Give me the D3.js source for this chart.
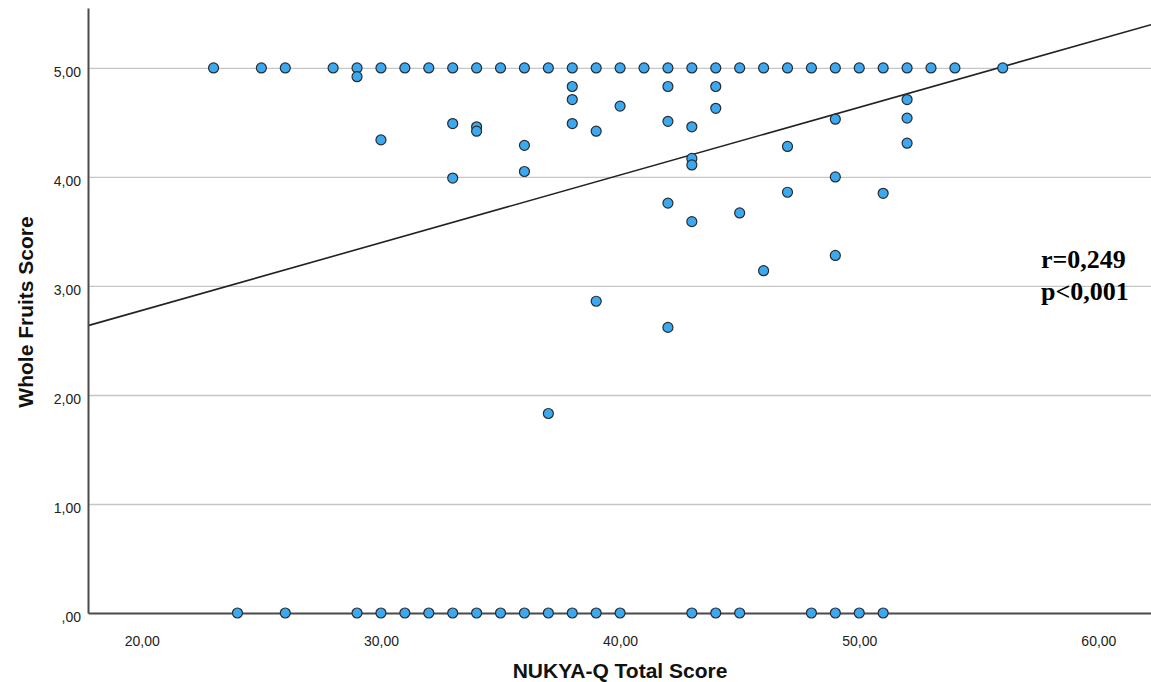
<!DOCTYPE html>
<html>
<head>
<meta charset="utf-8">
<script src="https://cdn.jsdelivr.net/npm/d3@7"></script>
<style>
  html, body { margin: 0; padding: 0; background: #fff; }
  svg { display: block; }
</style>
</head>
<body>
<svg id="chart" width="1151" height="682"></svg>
<script>
// NUKYA-Q total score (x) against Whole Fruits score (y)
const scoreX = [
  23, 25, 26, 28, 29, 30, 31, 32, 33, 34, 35, 36, 37, 38, 39, 40,
  41, 42, 43, 44, 45, 46, 47, 48, 49, 50, 51, 52, 53, 54, 56,
  24, 26, 29, 30, 31, 32, 33, 34, 35, 36, 37, 38, 39, 40, 43, 44,
  45, 48, 49, 50, 51,
  29, 30, 33, 33, 34, 34, 36, 36, 37, 38, 38, 38, 39, 39, 40,
  42, 42, 42, 42, 43, 43, 43, 43, 44, 44, 45, 46, 47, 47,
  49, 49, 49, 51, 52, 52, 52
];
const fruitY = [
  5, 5, 5, 5, 5, 5, 5, 5, 5, 5, 5, 5, 5, 5, 5, 5,
  5, 5, 5, 5, 5, 5, 5, 5, 5, 5, 5, 5, 5, 5, 5,
  0, 0, 0, 0, 0, 0, 0, 0, 0, 0, 0, 0, 0, 0, 0, 0,
  0, 0, 0, 0, 0,
  4.92, 4.34, 4.49, 3.99, 4.46, 4.42, 4.29, 4.05, 1.83, 4.83, 4.71, 4.49, 4.42, 2.86, 4.65,
  4.83, 4.51, 3.76, 2.62, 4.46, 4.17, 4.11, 3.59, 4.83, 4.63, 3.67, 3.14, 4.28, 3.86,
  4.53, 4.00, 3.28, 3.85, 4.71, 4.54, 4.31
];

// linear fit line
const fitIntercept = 1.534;
const fitSlope = 0.0621;

const xTicks = [20, 30, 40, 50, 60];
const xTickLabels = ["20,00", "30,00", "40,00", "50,00", "60,00"];
const yTicks = [0, 1, 2, 3, 4, 5];
const yTickLabels = [",00", "1,00", "2,00", "3,00", "4,00", "5,00"];

const statLines = ["r=0,249", "p<0,001"];

const width = 1151;
const height = 682;
const plot = {left: 88, right: 1151, top: 8, bottom: 613};

const x = d3.scaleLinear().domain([17.75, 62.2]).range([plot.left, plot.right]);
const y = d3.scaleLinear().domain([0, 5.55]).range([plot.bottom, plot.top]);

const svg = d3.select("#chart");

svg.append("rect")
  .attr("width", width)
  .attr("height", height)
  .attr("fill", "#fff");

// horizontal grid
svg.append("g")
  .attr("transform", `translate(${plot.left},0)`)
  .call(d3.axisLeft(y).tickValues(yTicks.slice(1)).tickSize(-(plot.right - plot.left)).tickFormat(""))
  .call(g => g.select(".domain").remove())
  .call(g => g.selectAll(".tick line").attr("stroke", "#c6c6c6").attr("stroke-width", 1.3));

// fit line
const fitLine = d3.line()
  .x(d => x(d))
  .y(d => y(fitIntercept + fitSlope * d));

svg.append("path")
  .datum(x.domain())
  .attr("fill", "none")
  .attr("stroke", "#222")
  .attr("stroke-width", 1.6)
  .attr("d", fitLine);

// axes
const xAxis = svg.append("g")
  .attr("transform", `translate(0,${plot.bottom})`)
  .call(d3.axisBottom(x)
    .tickValues(xTicks)
    .tickSize(0)
    .tickPadding(23)
    .tickFormat((d, i) => xTickLabels[i]));

const yAxis = svg.append("g")
  .attr("transform", `translate(${plot.left},0)`)
  .call(d3.axisLeft(y)
    .tickValues(yTicks)
    .tickSize(0)
    .tickPadding(7)
    .tickFormat((d, i) => yTickLabels[i]));

yAxis.selectAll(".tick text").attr("dy", "0.62em");

[xAxis, yAxis].forEach(g => {
  g.select(".domain").attr("stroke", "#4a4a4a").attr("stroke-width", 2);
  g.selectAll(".tick text")
    .attr("fill", "#222")
    .style("font-family", "'Liberation Sans', Arial, sans-serif")
    .style("font-size", "14px");
});

// points
svg.append("g")
  .selectAll("circle")
  .data(scoreX)
  .enter().append("circle")
  .attr("cx", d => x(d))
  .attr("cy", (d, i) => y(fruitY[i]))
  .attr("r", 5)
  .attr("fill", "#3aa9f2")
  .attr("stroke", "#2b2b2b")
  .attr("stroke-width", 1.2);

// axis titles
svg.append("text")
  .attr("x", 620)
  .attr("y", 678)
  .attr("text-anchor", "middle")
  .style("font-family", "'Liberation Sans', Arial, sans-serif")
  .style("font-size", "21px")
  .style("font-weight", "bold")
  .attr("fill", "#111")
  .text("NUKYA-Q Total Score");

svg.append("text")
  .attr("transform", "translate(33,312) rotate(-90)")
  .attr("text-anchor", "middle")
  .style("font-family", "'Liberation Sans', Arial, sans-serif")
  .style("font-size", "21px")
  .style("font-weight", "bold")
  .attr("fill", "#111")
  .text("Whole Fruits Score");

// correlation note
svg.append("g")
  .selectAll("text")
  .data(statLines)
  .enter().append("text")
  .attr("x", 1041)
  .attr("y", (d, i) => 268 + i * 32)
  .style("font-family", "'Liberation Serif', 'Times New Roman', serif")
  .style("font-size", "26px")
  .style("font-weight", "bold")
  .attr("fill", "#000")
  .text(d => d);
</script>
</body>
</html>
